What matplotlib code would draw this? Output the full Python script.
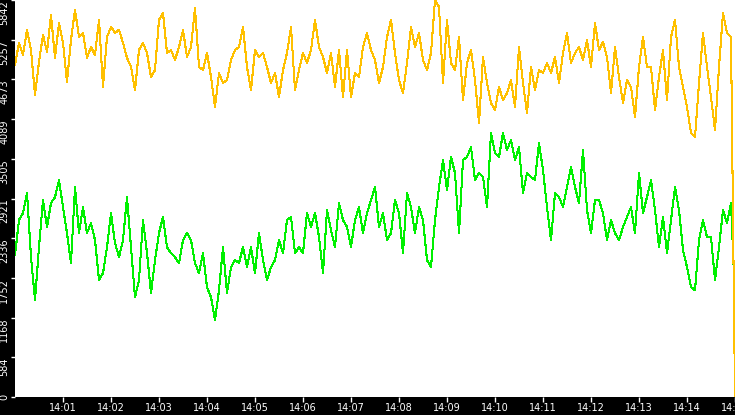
#two traffic counters over 15 minutes
import pandas as pd
import matplotlib
matplotlib.use('Agg')
import matplotlib.pyplot as plt

# one sample every 5 seconds, 14:00:00 - 14:15:00
times = pd.date_range('2024-01-01 14:00:00', periods=181, freq='5s')

yellow = [4887, 5211, 5034, 5402, 5108, 4445, 4931, 5329, 5078, 5623, 4990, 5505, 5211, 4637, 5255, 5697,
          5299, 5358, 4990, 5152, 5034, 5549, 4563, 5299, 5446, 5358, 5402, 5211, 4990, 4858, 4519, 5108,
          5209, 5062, 4709, 4812, 5548, 5650, 5062, 5106, 4959, 5150, 5400, 5003, 5150, 5724, 4856, 4812,
          5062, 4709, 4267, 4768, 4620, 4664, 4959, 5106, 5150, 5445, 4856, 4517, 5106, 5003, 5062,
          4856, 4620, 4768, 4414, 4812, 5062, 5445, 4517, 4812, 5062, 4915, 5106, 5548, 5150, 5003, 4768,
          5062, 4561, 5106, 4414, 5106, 4414, 4768, 4709, 5150, 5356, 5106, 4959, 4620, 4856, 5297,
          5548, 5062, 4664, 4473, 4915, 5445, 5150, 5356, 4959, 4812, 5062, 5842, 5739, 4620, 5548, 4915,
          4812, 5297, 4370, 4915, 5106, 4664, 4031, 5003, 4620, 4326, 4223, 4561, 4370, 4473, 4664, 4267,
          5150, 4620, 4179, 4856, 4517, 4812, 4768, 4915, 4768, 5003, 4620, 5062, 5356, 4915, 5062, 5150,
          4959, 5253, 4856, 5503, 5106, 5224, 5003, 4473, 5150, 4709, 4326, 4664, 4561, 4120, 4856, 5297, 4856,
          4856, 4223, 4709, 5106, 4370, 5297, 5548, 4856, 4561, 4267, 3884, 3825, 4620, 5356, 4856, 4414,
          3928, 4856, 5650, 5356, 5297, 0]

green = [2088, 2604, 2707, 3001, 2059, 1426, 2206, 2898, 2501, 2854, 2942, 3192, 2795, 2412, 1971, 3089,
         2412, 2795, 2412, 2559, 2309, 1720, 1823, 2206, 2707, 2265, 2059, 2309, 2942, 2206, 1470, 1720,
         2604, 2118, 1529, 2015, 2412, 2648, 2206, 2118, 2059, 1971, 2309, 2412, 2309, 1971, 1823, 2118,
         1617, 1470, 1132, 1573, 2206, 1529, 1912, 2015, 1971, 2206, 1912, 2206, 1823, 2412, 2015,
         1720, 1912, 2015, 2309, 2118, 2604, 2648, 2118, 2206, 2118, 2707, 2501, 2707, 2353, 1823, 2751,
         2456, 2206, 2854, 2604, 2501, 2206, 2604, 2795, 2412, 2707, 2898, 3089, 2501, 2707, 2309,
         2412, 2898, 2707, 2118, 3001, 2795, 2412, 2795, 2604, 2015, 1912, 2604, 3089, 3487, 3045, 3531,
         3295, 2412, 3487, 3531, 3678, 3192, 3295, 3237, 2795, 3884, 3590, 3531, 3884, 3634, 3781, 3487,
         3678, 3001, 3295, 3237, 3192, 3737, 3340, 2795, 2309, 3001, 2942, 2795, 3089, 3384, 3089, 2854,
         3634, 2751, 2412, 2898, 2898, 2707, 2309, 2604, 2412, 2309, 2501, 2648, 2795, 2412, 3295, 2707, 2942,
         3192, 2751, 2206, 2648, 2118, 2604, 3089, 2751, 2162, 1912, 1617, 1573, 2309, 2604, 2353, 2353,
         1720, 2206, 2751, 2559, 2854, 1426]

y_ticks = [0, 584, 1168, 1752, 2336, 2921, 3505, 4089, 4673, 5257, 5842]
x_ticks = pd.date_range('2024-01-01 14:01:00', periods=15, freq='1min')
x_labels = [t.strftime('%H:%M') for t in x_ticks]

fig = plt.figure(figsize=(7.35, 4.15), dpi=100, facecolor='black')
ax = fig.add_axes([15/735, 18/415, 720/735, 397/415])
ax.set_facecolor('white')

ax.plot(times, green, color='#00f000', lw=0.75, antialiased=False)
ax.plot(times, yellow, color='#ffc000', lw=0.75, antialiased=False)

ax.set_xlim(times[0], times[-1])
ax.set_ylim(0, 5842)

ax.set_yticks(y_ticks)
ax.set_yticklabels([str(v) for v in y_ticks], rotation=90, va='top')
ax.get_yticklabels()[0].set_va('center')
ax.set_xticks(x_ticks)
ax.set_xticklabels(x_labels)

for s in ax.spines.values():
    s.set_visible(False)
ax.tick_params(colors='white', labelsize=7, width=1, pad=1)
ax.tick_params(axis='x', length=3.5)
ax.tick_params(axis='y', length=3, pad=1.2)

fig.savefig('out.png', dpi=100, facecolor='black')
